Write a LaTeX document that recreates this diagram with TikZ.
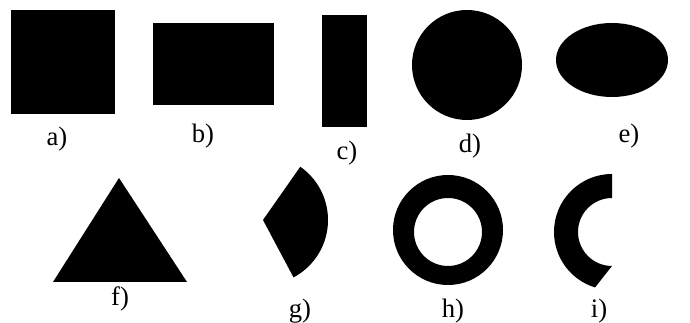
\documentclass[tikz,border=0pt]{standalone}
\usepackage{fontspec}
\setmainfont{Liberation Serif}
\usepackage{tikz}
\usetikzlibrary{positioning}

\begin{document}
\begin{tikzpicture}[x=0.75pt, y=-0.75pt,
    shapefill/.style={fill=black, draw=none},
    caption/.style={anchor=base, inner sep=0pt, font=\fontsize{20}{24}\selectfont}]
  \useasboundingbox (0,0) rectangle (690,323);

  % top row
  \fill[shapefill] (11,10) rectangle (115,114);
  \fill[shapefill] (153,23) rectangle (274,105);
  \fill[shapefill] (322,15) rectangle (367,127);
  \fill[shapefill] (467,65) circle [radius=55];
  \fill[shapefill] (612,60) ellipse [x radius=56, y radius=37];

  % bottom row (y points down, so angles run clockwise)
  \fill[shapefill] (119,178) -- (53,282) -- (187,282) -- cycle;
  \fill[shapefill] (263,220) -- ++(-55:65) arc [start angle=-55, end angle=62, radius=65] -- cycle;
  \fill[shapefill, even odd rule] (448,230) circle [radius=55] (448,232) circle [radius=34];
  \fill[shapefill] (612,232) ++(-90:58) arc [start angle=-90, end angle=-253, radius=58]
    -- (612,266) arc [start angle=90, end angle=270, radius=34] -- cycle;

  % captions
  \node[caption] (capa) at (57,146) {a)};
  \node[caption] (capb) at (203,143) {b)};
  \node[caption] (capc) at (347,160) {c)};
  \node[caption] (capd) at (470,153) {d)};
  \node[caption] (cape) at (629,143) {e)};
  \node[caption] (capf) at (120,306) {f)};
  \node[caption] (capg) at (300,318) {g)};
  \node[caption] (caph) at (453,318) {h)};
  \node[caption] (capi) at (599,318) {i)};
\end{tikzpicture}
\end{document}
